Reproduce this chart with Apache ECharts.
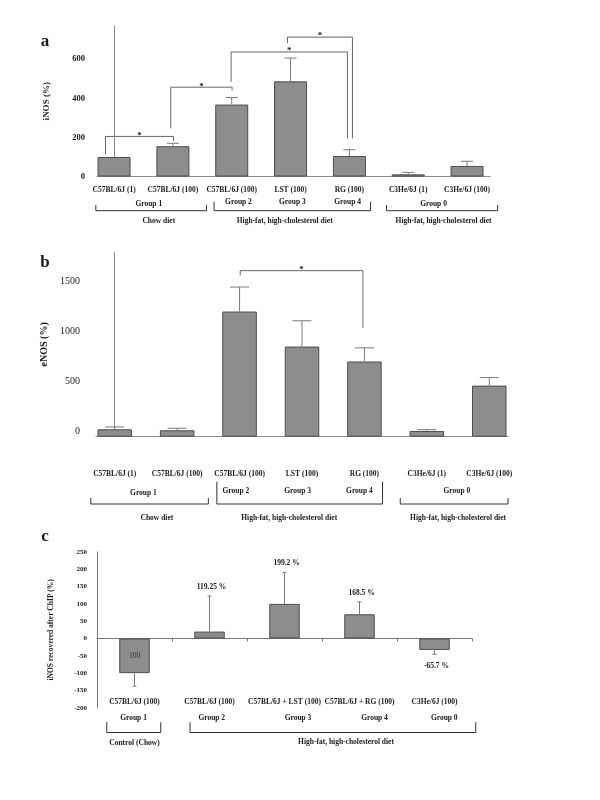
<!DOCTYPE html>
<html><head><meta charset="utf-8">
<script src="https://cdn.jsdelivr.net/npm/echarts@6/dist/echarts.min.js"></script>
<style>html,body{margin:0;padding:0;background:#fff}#c{width:600px;height:800px}</style>
</head><body><div id="c"></div>
<script>
// ---------- DATA ----------
const catsA = ['C57BL/6J (1)', 'C57BL/6J (100)', 'C57BL/6J (100)', 'LST (100)', 'RG (100)', 'C3He/6J (1)', 'C3He/6J (100)'];
const valsA = [100, 155, 368, 487, 105, 11, 54];
const errA  = [0, 15, 36, 119, 32, 10, 24];
const ticksA = [0, 200, 400, 600];

const catsB = ['C57BL/6J (1)', 'C57BL/6J (100)', 'C57BL/6J (100)', 'LST (100)', 'RG (100)', 'C3He/6J (1)', 'C3He/6J (100)'];
const valsB = [74, 64, 1247, 898, 749, 57, 509];
const errB  = [23, 20, 244, 257, 136, 13, 80];
const ticksB = [0, 500, 1000, 1500];

const catsC = ['C57BL/6J (100)', 'C57BL/6J (100)', 'C57BL/6J + LST (100)', 'C57BL/6J + RG (100)', 'C3He/6J (100)'];
const valsC = [-100, 20, 100, 70, -33];
const errC  = [38, 103, 91, 36, 13];
const notesC = ['100', '119.25 %', '199.2 %', '168.5 %', '-65.7 %'];

const groupNames = ['Group 1', 'Group 2', 'Group 3', 'Group 4', 'Group 0'];
const dietsAB = ['Chow diet', 'High-fat, high-cholesterol diet', 'High-fat, high-cholesterol diet'];
const dietsC = ['Control (Chow)', 'High-fat, high-cholesterol diet'];
const sigPairsA = [[0, 1], [1, 2], [2, 4], [3, 4]];
const sigPairsB = [[2, 4]];

// ---------- LAYOUT (annotation positions in axis units / pixel offsets) ----------
const sigLayoutA = [
  {x1: -0.146, x2: 1.01, top: 205, l: 115, r: 183},
  {x1: 0.964, x2: 2.006, top: 457, l: 246, r: 441},
  {x1: 1.989, x2: 3.967, top: 637, l: 484, r: 195},
  {x1: 2.947, x2: 4.052, top: 713, l: 683, r: 195}
];
const sigLayoutB = [{x1: 2.01, x2: 3.976, top: 1654, l: 1607, r: 1082}];

const FONT = 'Liberation Serif';
const TXT = '#1a1a1a';
const BAR = '#8d8d8d';
const BAR_EDGE = '#4d4d4d';
const AXIS = '#8a8a8a';
const ERR = '#7a7a7a';

const chart = echarts.init(document.getElementById('c'), null, {renderer: 'canvas'});

function errItem(capHalf) {
  return function (params, api) {
    const x = api.value(0), v = api.value(1), e = api.value(2);
    if (!e) return null;
    const end = v >= 0 ? v + e : v - e;
    const p0 = api.coord([x, v]), p1 = api.coord([x, end]);
    return {type: 'group', children: [
      {type: 'line', shape: {x1: p0[0], y1: p0[1], x2: p1[0], y2: p1[1]}, style: {stroke: ERR, lineWidth: 1}},
      {type: 'line', shape: {x1: p1[0] - capHalf, y1: p1[1], x2: p1[0] + capHalf, y2: p1[1]}, style: {stroke: ERR, lineWidth: 1}}
    ]};
  };
}

const lblStyle = {fontFamily: FONT, fontWeight: 'bold', color: TXT};
const plain = v => String(v);

const option = {
  animation: false,
  backgroundColor: '#fff',
  grid: [
    {left: 97, top: 26, width: 393, height: 150.5},
    {left: 96, top: 252, width: 412, height: 184.7},
    {left: 97, top: 552, width: 375, height: 155.7}
  ],
  xAxis: [
    {gridIndex: 0, type: 'value', min: -0.29, max: 6.39, splitLine: {show: false},
     axisLine: {lineStyle: {color: AXIS}}, axisTick: {show: false},
     axisLabel: Object.assign({customValues: [0,1,2,3,4,5,6], fontSize: 7.5, margin: 10,
       formatter: v => catsA[Math.round(v)]}, lblStyle)},
    {gridIndex: 1, type: 'value', min: -0.3, max: 6.3, splitLine: {show: false},
     axisLine: {lineStyle: {color: AXIS}}, axisTick: {show: false},
     axisLabel: Object.assign({customValues: [0,1,2,3,4,5,6], fontSize: 7.5, margin: 33,
       formatter: v => catsB[Math.round(v)]}, lblStyle)},
    {gridIndex: 2, type: 'category', data: catsC, axisLine: {onZero: true, lineStyle: {color: '#777'}},
     axisTick: {show: true, length: 3, lineStyle: {color: '#777'}},
     axisLabel: Object.assign({fontSize: 7.5, margin: -10, interval: 0}, lblStyle)}
  ],
  yAxis: [
    {gridIndex: 0, type: 'value', min: 0, max: 770, splitLine: {show: false},
     axisLine: {show: true, lineStyle: {color: AXIS}}, axisTick: {show: false},
     axisLabel: Object.assign({customValues: ticksA, fontSize: 8.5, margin: 12, formatter: plain}, lblStyle),
     name: 'iNOS (%)', nameLocation: 'middle', nameRotate: 90, nameGap: 46,
     nameTextStyle: {fontFamily: FONT, fontWeight: 'bold', fontSize: 9, color: TXT}},
    {gridIndex: 1, type: 'value', min: 0, max: 1840, splitLine: {show: false},
     axisLine: {show: true, lineStyle: {color: AXIS}}, axisTick: {show: false},
     axisLabel: {customValues: ticksB, fontSize: 10, margin: 16, verticalAlign: 'bottom',
       fontFamily: FONT, color: TXT, formatter: plain},
     name: 'eNOS (%)', nameLocation: 'middle', nameRotate: 90, nameGap: 46,
     nameTextStyle: {fontFamily: FONT, fontWeight: 'bold', fontSize: 10, color: TXT}},
    {gridIndex: 2, type: 'value', min: -200, max: 250, interval: 50, splitLine: {show: false},
     axisLine: {show: true, lineStyle: {color: '#777'}}, axisTick: {show: false},
     axisLabel: Object.assign({fontSize: 7, margin: 10, formatter: plain}, lblStyle),
     name: 'iNOS recovered after ChIP (%)', nameLocation: 'middle', nameRotate: 90, nameGap: 42,
     nameTextStyle: {fontFamily: FONT, fontWeight: 'bold', fontSize: 7.5, color: TXT}}
  ],
  series: [
    {type: 'bar', xAxisIndex: 0, yAxisIndex: 0, barWidth: 33,
     itemStyle: {color: BAR, borderColor: BAR_EDGE, borderWidth: 1},
     data: valsA.map((v, i) => [i, v])},
    {type: 'custom', xAxisIndex: 0, yAxisIndex: 0, renderItem: errItem(6),
     data: valsA.map((v, i) => [i, v, errA[i]]), z: 3},
    {type: 'bar', xAxisIndex: 1, yAxisIndex: 1, barWidth: 34.5,
     itemStyle: {color: BAR, borderColor: BAR_EDGE, borderWidth: 1},
     data: valsB.map((v, i) => [i, v])},
    {type: 'custom', xAxisIndex: 1, yAxisIndex: 1, renderItem: errItem(9.5),
     data: valsB.map((v, i) => [i, v, errB[i]]), z: 3},
    {type: 'bar', xAxisIndex: 2, yAxisIndex: 2, barWidth: 30.5,
     itemStyle: {color: BAR, borderColor: BAR_EDGE, borderWidth: 1},
     label: {show: true, position: 'inside', fontFamily: FONT, fontSize: 7.5, color: '#333',
       formatter: p => (p.dataIndex === 0 ? notesC[0] : '')},
     data: valsC},
    {type: 'custom', xAxisIndex: 2, yAxisIndex: 2, z: 3,
     renderItem: function (params, api) {
       const g = errItem(2)(params, api);
       const i = params.dataIndex;
       if (i === 0) return g;
       const x = api.value(0), v = api.value(1), e = api.value(2);
       const end = v >= 0 ? v + e : v - e;
       const p = api.coord([x, end]);
       g.children.push({type: 'text', style: {text: notesC[i], x: p[0] + 2, y: p[1] + (v >= 0 ? -9 : 12),
         align: 'center', verticalAlign: 'middle', font: 'bold 7.5px "' + FONT + '"', fill: TXT}});
       return g;
     },
     data: valsC.map((v, i) => [i, v, errC[i]])}
  ]
};
chart.setOption(option);

// ---------- annotations positioned through the axes ----------
function pxX(axisIdx, u) {
  if (axisIdx === 2) {
    const a = chart.convertToPixel({xAxisIndex: 2}, 0), b = chart.convertToPixel({xAxisIndex: 2}, 1);
    return a + (b - a) * u;
  }
  return chart.convertToPixel({xAxisIndex: axisIdx}, u);
}
function pxY(axisIdx, v) { return chart.convertToPixel({yAxisIndex: axisIdx}, v); }

const g = [];
function line(pts, color) {
  g.push({type: 'polyline', shape: {points: pts}, style: {stroke: color || '#555', lineWidth: 1, fill: null}, silent: true});
}
function text(t, x, y, size, opts) {
  g.push({type: 'text', x: x, y: y, rotation: (opts && opts.rot) || 0, silent: true,
    style: {text: t, align: 'center', verticalAlign: 'middle', fill: TXT,
      font: ((opts && opts.weight) || 'bold') + ' ' + size + 'px "' + FONT + '"'}});
}

// significance brackets
function sig(axisIdx, layouts) {
  layouts.forEach(s => {
    const x1 = pxX(axisIdx, s.x1), x2 = pxX(axisIdx, s.x2);
    const yt = pxY(axisIdx, s.top), yl = pxY(axisIdx, s.l), yr = pxY(axisIdx, s.r);
    line([[x1, yl], [x1, yt], [x2, yt], [x2, yr]], '#666');
    text('*', (x1 + x2) / 2, yt - 1, 9);
  });
}
sig(0, sigLayoutA);
sig(1, sigLayoutB);

// group brackets under axis
function groups(axisIdx, y0, cfg) {
  cfg.labels.forEach((l, i) => text(groupNames[i], pxX(axisIdx, l[0]), y0 + l[1], 7.5));
  cfg.brackets.forEach(b => {
    const x1 = pxX(axisIdx, b[0]), x2 = pxX(axisIdx, b[1]);
    line([[x1, y0 + b[2]], [x1, y0 + cfg.bottom], [x2, y0 + cfg.bottom], [x2, y0 + b[2]]], '#333');
  });
  cfg.diets.forEach((d, i) => text(cfg.dietNames[i], pxX(axisIdx, d[0]), y0 + d[1], 7.5));
}
const y0A = pxY(0, 0), y0B = pxY(1, 0), y0C = pxY(2, 0);
groups(0, y0A, {
  labels: [[0.59, 27.5], [2.115, 25.5], [3.03, 25.5], [3.97, 25.5], [5.43, 27.5]],
  brackets: [[-0.31, 1.57, 28.5], [1.70, 4.36, 25.2], [4.63, 6.52, 28.5]],
  bottom: 34.2,
  diets: [[0.76, 44.2], [2.9, 44.2], [5.6, 44.2]], dietNames: dietsAB
});
groups(1, y0B, {
  labels: [[0.46, 56.6], [1.94, 54], [2.93, 54], [3.92, 54], [5.48, 54]],
  brackets: [[-0.383, 1.50, 61.3], [1.636, 4.29, 45], [4.574, 6.30, 61.3]],
  bottom: 67.3,
  diets: [[0.675, 81.6], [2.795, 81.6], [5.5, 81.6]], dietNames: dietsAB
});
groups(2, y0C, {
  labels: [[-0.013, 79.7], [1.03, 79.7], [2.18, 79.7], [3.2, 79.7], [4.13, 79.7]],
  brackets: [[-0.37, 0.35, 83.7], [0.74, 4.55, 83.7]],
  bottom: 94,
  diets: [[0, 105], [2.82, 103.4]], dietNames: dietsC
});

// panel letters
text('a', 45, 42, 17);
text('b', 45, 263, 17);
text('c', 45, 537, 17);

chart.setOption({graphic: {elements: g}});
</script>
</body></html>
